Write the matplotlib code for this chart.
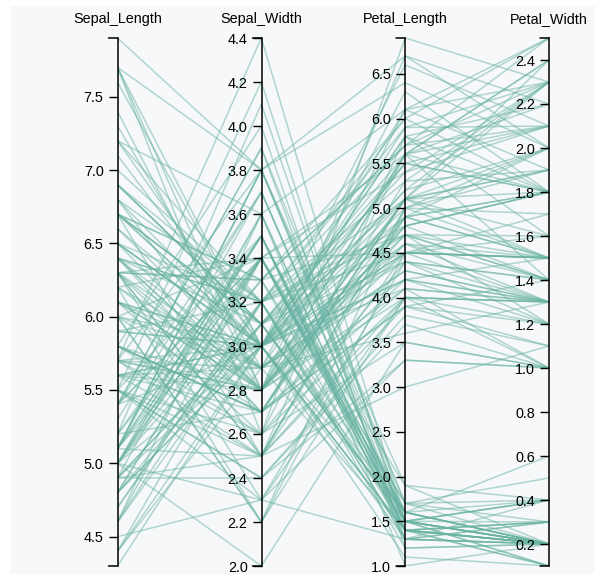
import matplotlib
matplotlib.use("Agg")
import matplotlib.pyplot as plt
from matplotlib.patches import Rectangle
import numpy as np

# iris dataset, one list per dimension
dimensions = ["Sepal_Length", "Sepal_Width", "Petal_Length", "Petal_Width"]

sepal_length = [
    5.1, 4.9, 4.7, 4.6, 5.0, 5.4, 4.6, 5.0, 4.4, 4.9, 5.4, 4.8, 4.8, 4.3, 5.8, 5.7, 5.4, 5.1, 5.7, 5.1,
    5.4, 5.1, 4.6, 5.1, 4.8, 5.0, 5.0, 5.2, 5.2, 4.7, 4.8, 5.4, 5.2, 5.5, 4.9, 5.0, 5.5, 4.9, 4.4, 5.1,
    5.0, 4.5, 4.4, 5.0, 5.1, 4.8, 5.1, 4.6, 5.3, 5.0,
    7.0, 6.4, 6.9, 5.5, 6.5, 5.7, 6.3, 4.9, 6.6, 5.2, 5.0, 5.9, 6.0, 6.1, 5.6, 6.7, 5.6, 5.8, 6.2, 5.6,
    5.9, 6.1, 6.3, 6.1, 6.4, 6.6, 6.8, 6.7, 6.0, 5.7, 5.5, 5.5, 5.8, 6.0, 5.4, 6.0, 6.7, 6.3, 5.6, 5.5,
    5.5, 6.1, 5.8, 5.0, 5.6, 5.7, 5.7, 6.2, 5.1, 5.7,
    6.3, 5.8, 7.1, 6.3, 6.5, 7.6, 4.9, 7.3, 6.7, 7.2, 6.5, 6.4, 6.8, 5.7, 5.8, 6.4, 6.5, 7.7, 7.7, 6.0,
    6.9, 5.6, 7.7, 6.3, 6.7, 7.2, 6.2, 6.1, 6.4, 7.2, 7.4, 7.9, 6.4, 6.3, 6.1, 7.7, 6.3, 6.4, 6.0, 6.9,
    6.7, 6.9, 5.8, 6.8, 6.7, 6.7, 6.3, 6.5, 6.2, 5.9,
]
sepal_width = [
    3.5, 3.0, 3.2, 3.1, 3.6, 3.9, 3.4, 3.4, 2.9, 3.1, 3.7, 3.4, 3.0, 3.0, 4.0, 4.4, 3.9, 3.5, 3.8, 3.8,
    3.4, 3.7, 3.6, 3.3, 3.4, 3.0, 3.4, 3.5, 3.4, 3.2, 3.1, 3.4, 4.1, 4.2, 3.1, 3.2, 3.5, 3.6, 3.0, 3.4,
    3.5, 2.3, 3.2, 3.5, 3.8, 3.0, 3.8, 3.2, 3.7, 3.3,
    3.2, 3.2, 3.1, 2.3, 2.8, 2.8, 3.3, 2.4, 2.9, 2.7, 2.0, 3.0, 2.2, 2.9, 2.9, 3.1, 3.0, 2.7, 2.2, 2.5,
    3.2, 2.8, 2.5, 2.8, 2.9, 3.0, 2.8, 3.0, 2.9, 2.6, 2.4, 2.4, 2.7, 2.7, 3.0, 3.4, 3.1, 2.3, 3.0, 2.5,
    2.6, 3.0, 2.6, 2.3, 2.7, 3.0, 2.9, 2.9, 2.5, 2.8,
    3.3, 2.7, 3.0, 2.9, 3.0, 3.0, 2.5, 2.9, 2.5, 3.6, 3.2, 2.7, 3.0, 2.5, 2.8, 3.2, 3.0, 3.8, 2.6, 2.2,
    3.2, 2.8, 2.8, 2.7, 3.3, 3.2, 2.8, 3.0, 2.8, 3.0, 2.8, 3.8, 2.8, 2.8, 2.6, 3.0, 3.4, 3.1, 3.0, 3.1,
    3.1, 3.1, 2.7, 3.2, 3.3, 3.0, 2.5, 3.0, 3.4, 3.0,
]
petal_length = [
    1.4, 1.4, 1.3, 1.5, 1.4, 1.7, 1.4, 1.5, 1.4, 1.5, 1.5, 1.6, 1.4, 1.1, 1.2, 1.5, 1.3, 1.4, 1.7, 1.5,
    1.7, 1.5, 1.0, 1.7, 1.9, 1.6, 1.6, 1.5, 1.4, 1.6, 1.6, 1.5, 1.5, 1.4, 1.5, 1.2, 1.3, 1.4, 1.3, 1.5,
    1.3, 1.3, 1.3, 1.6, 1.9, 1.4, 1.6, 1.4, 1.5, 1.4,
    4.7, 4.5, 4.9, 4.0, 4.6, 4.5, 4.7, 3.3, 4.6, 3.9, 3.5, 4.2, 4.0, 4.7, 3.6, 4.4, 4.5, 4.1, 4.5, 3.9,
    4.8, 4.0, 4.9, 4.7, 4.3, 4.4, 4.8, 5.0, 4.5, 3.5, 3.8, 3.7, 3.9, 5.1, 4.5, 4.5, 4.7, 4.4, 4.1, 4.0,
    4.4, 4.6, 4.0, 3.3, 4.2, 4.2, 4.2, 4.3, 3.0, 4.1,
    6.0, 5.1, 5.9, 5.6, 5.8, 6.6, 4.5, 6.3, 5.8, 6.1, 5.1, 5.3, 5.5, 5.0, 5.1, 5.3, 5.5, 6.7, 6.9, 5.0,
    5.7, 4.9, 6.7, 4.9, 5.7, 6.0, 4.8, 4.9, 5.6, 5.8, 6.1, 6.4, 5.6, 5.1, 5.6, 6.1, 5.6, 5.5, 4.8, 5.4,
    5.6, 5.1, 5.1, 5.9, 5.7, 5.2, 5.0, 5.2, 5.4, 5.1,
]
petal_width = [
    0.2, 0.2, 0.2, 0.2, 0.2, 0.4, 0.3, 0.2, 0.2, 0.1, 0.2, 0.2, 0.1, 0.1, 0.2, 0.4, 0.4, 0.3, 0.3, 0.3,
    0.2, 0.4, 0.2, 0.5, 0.2, 0.2, 0.4, 0.2, 0.2, 0.2, 0.2, 0.4, 0.1, 0.2, 0.2, 0.2, 0.2, 0.1, 0.2, 0.2,
    0.3, 0.3, 0.2, 0.6, 0.4, 0.3, 0.2, 0.2, 0.2, 0.2,
    1.4, 1.5, 1.5, 1.3, 1.5, 1.3, 1.6, 1.0, 1.3, 1.4, 1.0, 1.5, 1.0, 1.4, 1.3, 1.4, 1.5, 1.0, 1.5, 1.1,
    1.8, 1.3, 1.5, 1.2, 1.3, 1.4, 1.4, 1.7, 1.5, 1.0, 1.1, 1.0, 1.2, 1.6, 1.5, 1.6, 1.5, 1.3, 1.3, 1.3,
    1.2, 1.4, 1.2, 1.0, 1.3, 1.2, 1.3, 1.3, 1.1, 1.3,
    2.5, 1.9, 2.1, 1.8, 2.2, 2.1, 1.7, 1.8, 1.8, 2.5, 2.0, 1.9, 2.1, 2.0, 2.4, 2.3, 1.8, 2.2, 2.3, 1.5,
    2.3, 2.0, 2.0, 1.8, 2.1, 1.8, 1.8, 1.8, 2.1, 1.6, 1.9, 2.0, 2.2, 1.5, 1.4, 2.3, 2.4, 1.8, 1.8, 2.1,
    2.4, 2.3, 1.9, 2.3, 2.5, 2.3, 1.9, 2.0, 2.3, 1.8,
]

tick_values = [
    [4.5, 5.0, 5.5, 6.0, 6.5, 7.0, 7.5],
    [2.0, 2.2, 2.4, 2.6, 2.8, 3.0, 3.2, 3.4, 3.6, 3.8, 4.0, 4.2, 4.4],
    [1.0, 1.5, 2.0, 2.5, 3.0, 3.5, 4.0, 4.5, 5.0, 5.5, 6.0, 6.5],
    [0.2, 0.4, 0.6, 0.8, 1.0, 1.2, 1.4, 1.6, 1.8, 2.0, 2.2, 2.4],
]

data = np.array([sepal_length, sepal_width, petal_length, petal_width])

plt.rcParams["font.family"] = ["Liberation Sans", "DejaVu Sans"]

W, H = 595, 574
fig = plt.figure(figsize=(W / 100, H / 100), dpi=100)
fig.patch.set_facecolor("white")
fig.patches.append(Rectangle((11 / W, 0), 1 - 11 / W, 1 - 6 / H, transform=fig.transFigure,
                             facecolor="#f7f8fa", edgecolor="none", zorder=-10))

axis_x = [117.5, 261.5, 405.0, 549.0]
top, bottom = 38, 566

# lines: x = dimension index, y = value rescaled to its own extent
ax = fig.add_axes([axis_x[0] / W, 1 - bottom / H, (axis_x[-1] - axis_x[0]) / W, (bottom - top) / H])
ax.set_xlim(0, 3)
ax.set_ylim(0, 1)
ax.axis("off")

lo = data.min(axis=1)
hi = data.max(axis=1)
norm = (data - lo[:, None]) / (hi - lo)[:, None]
xs = np.arange(len(dimensions))
for i in range(norm.shape[1]):
    ax.plot(xs, norm[:, i], color="#69b3a2", alpha=0.5, lw=1.1)

# one vertical axis per dimension
for k, name in enumerate(dimensions):
    a = fig.add_axes([axis_x[k] / W, 1 - bottom / H, 0.0001, (bottom - top) / H])
    a.set_facecolor("none")
    a.set_ylim(lo[k], hi[k])
    for s in ["top", "right", "bottom"]:
        a.spines[s].set_visible(False)
    a.spines["left"].set_linewidth(1.1)
    a.set_xticks([])
    a.set_yticks(tick_values[k])
    a.set_yticklabels(["%.1f" % v for v in tick_values[k]])
    a.tick_params(axis="y", length=6.5, width=1.0, pad=3.5, labelsize=10.4, colors="black")
    # outer ticks at both ends of the domain
    for v in (lo[k], hi[k]):
        a.annotate("", xy=(0, v), xytext=(-9, 0), xycoords=("axes fraction", "data"),
                   textcoords="offset pixels",
                   arrowprops=dict(arrowstyle="-", color="black", lw=1.1,
                                   shrinkA=0, shrinkB=0))
    fig.text(axis_x[k] / W, 1 - 19 / H, name, ha="center", va="center", fontsize=10.4)

fig.savefig("out.png", dpi=100)
